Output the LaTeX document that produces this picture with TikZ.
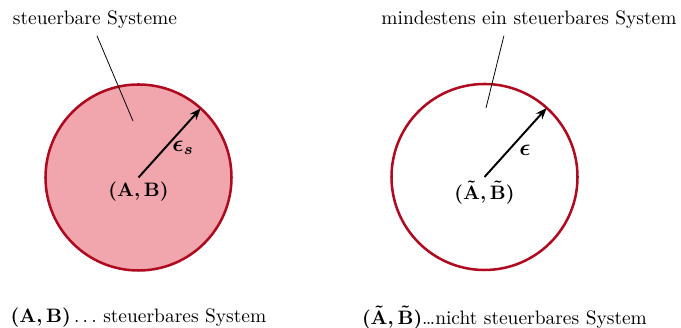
\documentclass[tikz,border=0pt]{standalone}
\usepackage{amsmath}
\usetikzlibrary{calc,arrows.meta}
\definecolor{ringred}{HTML}{B00A20}
\definecolor{ringfill}{HTML}{F0A6AC}
\tikzset{
  ring/.style={draw=ringred,line width=1.3pt},
  radiusarrow/.style={-{Stealth[length=6pt,width=4.5pt]},line width=1pt},
  pointer/.style={line width=0.4pt},
}
\begin{document}
\begin{tikzpicture}[x=0.514pt,y=0.514pt]
  \useasboundingbox (0,0) rectangle (681,328);
  \coordinate (cL) at (138.5,150.5);
  \coordinate (cR) at (484.5,151);
  \coordinate (pL) at (133,207);
  \coordinate (pR) at (486,220);
  \draw[ring,fill=ringfill] (cL) circle[radius=93];
  \draw[ring] (cR) circle[radius=93];
  \draw[radiusarrow] (cL) -- ++(48:93) coordinate (eL);
  \draw[radiusarrow] (cR) -- ++(48:93) coordinate (eR);
  \node[below,inner sep=2pt] (mL) at (cL) {$\boldsymbol{(\mathbf{A},\mathbf{B})}$};
  \node[below,inner sep=2pt] (mR) at (cR) {$\boldsymbol{(\tilde{\mathbf{A}},\tilde{\mathbf{B}})}$};
  \node[font=\large] (epsL) at (183,180) {$\boldsymbol{\epsilon_s}$};
  \node[font=\large] (epsR) at (525,178) {$\boldsymbol{\epsilon}$};
  \node (lblL) at (95,308) {steuerbare Systeme};
  \node (lblR) at (529,308) {mindestens ein steuerbares System};
  \draw[pointer] ([xshift=1pt]lblL.south) -- (pL);
  \draw[pointer] ([xshift=-12.9pt]lblR.south) -- (pR);
  \node (defL) at (138.5,10) {$\boldsymbol{(\mathbf{A},\mathbf{B})}\ldots$ steuerbares System};
  \node (defR) at (504.5,10) {$\boldsymbol{(\tilde{\mathbf{A}},\tilde{\mathbf{B}})}$\ldots nicht steuerbares System};
\end{tikzpicture}
\end{document}
